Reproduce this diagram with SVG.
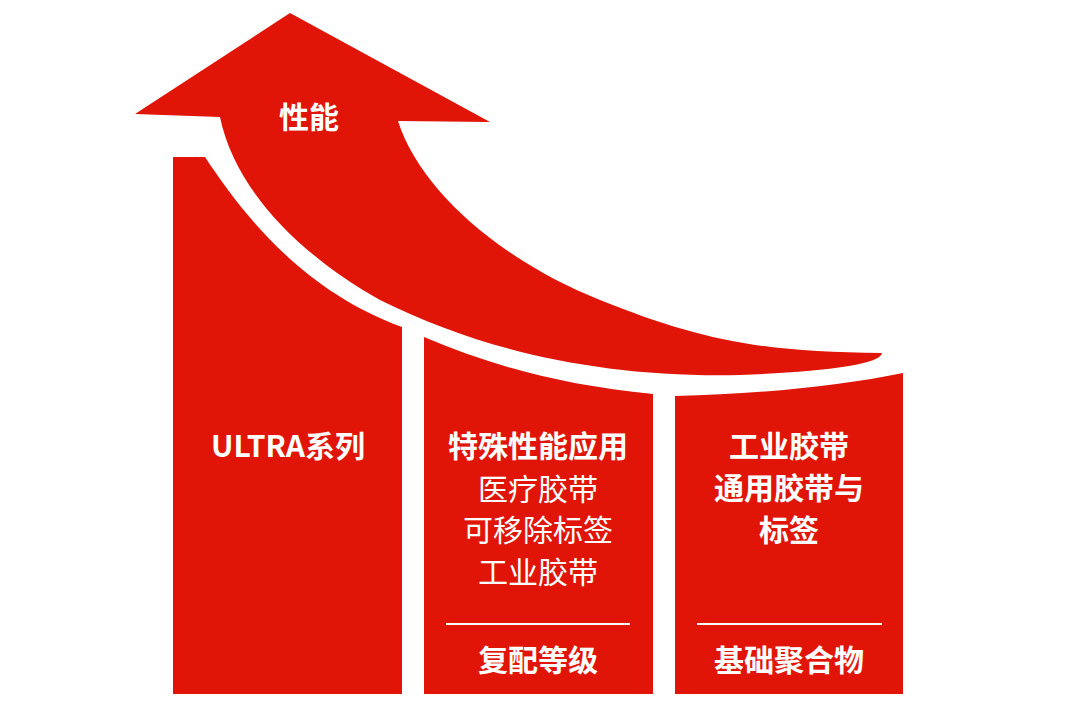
<svg xmlns="http://www.w3.org/2000/svg" width="1080" height="722" viewBox="0 0 1080 722">
<style>
.r{fill:#e01507}
text{fill:#fff;font-family:"Noto Sans CJK SC","Noto Sans",sans-serif;text-anchor:middle;font-size:30px}
.b{font-weight:bold}
.l{stroke:#fff;stroke-width:2}
</style>
<rect width="1080" height="722" fill="#fff"/>
<g id="arrow">
<path class="r" d="M135,114 L290,13 L490,122 L398,121 C420,190 500,260 600,300 C700,340 760,352 882,353 C880,365 820,372 740,375 C600,378 480,350 380,300 C300,255 235,190 220,117 Z"/>
<text class="b" x="309" y="128" font-size="40">性能</text>
</g>
<g id="col1">
<path class="r" d="M173,157 L205,157 C240,210 300,290 402,327 L402,694 L173,694 Z"/>
<text class="b" x="288" y="457">ULTRA系列</text>
</g>
<g id="col2">
<path class="r" d="M424,337 C490,365 560,385 653,394 L653,694 L424,694 Z"/>
<text class="b" x="538" y="457">特殊性能应用</text>
<text x="538" y="500">医疗胶带</text>
<text x="538" y="541">可移除标签</text>
<text x="538" y="583">工业胶带</text>
<line class="l" x1="446" y1="624" x2="630" y2="624"/>
<text class="b" x="538" y="671">复配等级</text>
</g>
<g id="col3">
<path class="r" d="M675,396 C760,394 840,386 903,373 L903,694 L675,694 Z"/>
<text class="b" x="789" y="457">工业胶带</text>
<text class="b" x="789" y="499">通用胶带与</text>
<text class="b" x="789" y="541">标签</text>
<line class="l" x1="697" y1="624" x2="882" y2="624"/>
<text class="b" x="789" y="671">基础聚合物</text>
</g>
<g id="connectors"/>
</svg>
